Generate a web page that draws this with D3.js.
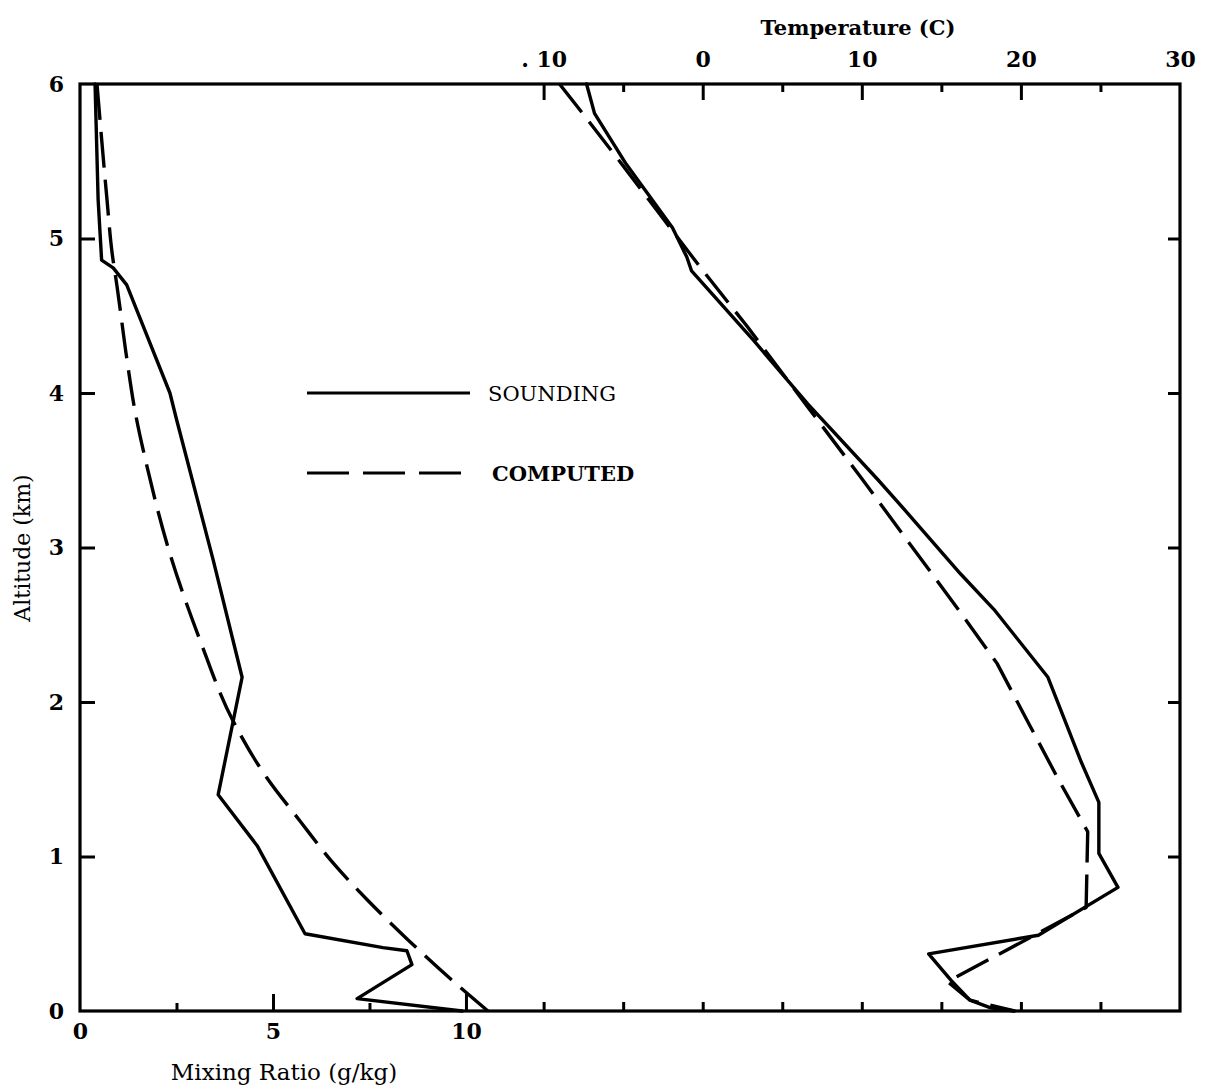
<!DOCTYPE html>
<html>
<head>
<meta charset="utf-8">
<script src="https://cdn.jsdelivr.net/npm/d3@7"></script>
<style>
  html, body { margin: 0; padding: 0; background: #fff; }
  svg { display: block; }
  text { font-family: "DejaVu Serif", "Liberation Serif", serif; fill: #000; }
</style>
</head>
<body>
<svg id="chart" width="1209" height="1091"></svg>
<script>
// ---------------- DATA ----------------
const altitudeTicks = [0, 1, 2, 3, 4, 5, 6];
const mixLabelTicks = [0, 5, 10];
const mixMinorTicks = [2.5, 7.5];
const mixMajorTicks = [5, 10];
const tempLabelValues = [-10, 0, 10, 20, 30];
const tempLabelTexts = [". 10", "0", "10", "20", "30"];
const tempMinorTicks = [-5, 5, 15, 25];
const tempBottomTicks = [-10, -5, 0, 5, 10, 15, 20, 25];

// Mixing ratio (g/kg) - sounding
const mixSoundAlt = [6, 5.25, 4.86, 4.81, 4.70, 4.0, 3.83, 2.92, 2.16, 1.40, 1.07, 0.50, 0.41, 0.39, 0.30, 0.08, 0];
const mixSoundVal = [0.39, 0.47, 0.56, 0.86, 1.21, 2.33, 2.5, 3.45, 4.2, 3.58, 4.59, 5.83, 7.85, 8.47, 8.6, 7.18, 9.9];
// Mixing ratio (g/kg) - computed
const mixCompAlt = [6, 5.25, 4.91, 4.69, 4.21, 3.89, 3.52, 2.96, 2.40, 1.88, 1.51, 1.23, 0.96, 0.72, 0.46, 0.21, 0];
const mixCompVal = [0.44, 0.70, 0.83, 0.96, 1.22, 1.42, 1.74, 2.33, 3.11, 3.96, 4.84, 5.70, 6.55, 7.44, 8.50, 9.59, 10.57];
// Temperature (C) - sounding
const tempSoundAlt = [6, 5.81, 5.48, 5.07, 4.88, 4.79, 4.34, 3.93, 3.44, 3.22, 2.83, 2.60, 2.16, 1.61, 1.35, 1.02, 0.80, 0.49, 0.37, 0.20, 0.07, 0.02, 0];
const tempSoundVal = [-7.3, -6.8, -4.8, -1.9, -1.0, -0.7, 3.2, 6.6, 11.0, 12.9, 16.2, 18.3, 21.7, 23.8, 24.9, 24.9, 26.1, 21.1, 14.2, 15.6, 16.8, 18.1, 19.6];
// Temperature (C) - computed
const tempCompAlt = [6, 5.79, 5.47, 4.82, 4.43, 3.91, 3.46, 3.04, 2.58, 2.25, 1.84, 1.51, 1.16, 0.67, 0.19, 0.07, 0];
const tempCompVal = [-9.0, -7.4, -5.0, -0.2, 2.8, 6.6, 9.9, 12.9, 16.2, 18.5, 20.6, 22.3, 24.2, 24.1, 15.4, 16.8, 19.6];

const legendItems = ["SOUNDING", "COMPUTED"];

// ---------------- LAYOUT ----------------
const plot = { left: 80, right: 1180, top: 84, bottom: 1011 };
const svg = d3.select("#chart");

const y = d3.scaleLinear().domain([0, 6]).range([plot.bottom, plot.top]);
const xMix = d3.scaleLinear().domain([0, 28.5]).range([plot.left, plot.right]);
const xTemp = d3.scaleLinear().domain([-39.14, 30]).range([plot.left, plot.right]);

const zip = (alt, val) => alt.map((a, i) => ({ alt: a, v: val[i] }));

// ---------------- AXES ----------------
function styleAxis(g, fontSize, weight) {
  g.select(".domain").remove();
  g.selectAll(".tick line").attr("stroke", "#000").attr("stroke-width", 3);
  g.selectAll(".tick text")
    .attr("font-family", "DejaVu Serif, serif")
    .attr("font-size", fontSize)
    .attr("font-weight", weight)
    .attr("fill", "#000");
}

// left altitude axis (ticks inward)
svg.append("g")
  .attr("transform", `translate(${plot.left},0)`)
  .call(d3.axisLeft(y).tickValues(altitudeTicks).tickSize(-15).tickPadding(16).tickFormat(d3.format("d")))
  .call(g => styleAxis(g, 22, "bold"))
  .call(g => g.selectAll(".tick").filter(d => d === 0 || d === 6).select("line").remove());

// right altitude ticks (inward)
svg.append("g")
  .attr("transform", `translate(${plot.right},0)`)
  .call(d3.axisRight(y).tickValues(altitudeTicks.filter(d => d > 0 && d < 6)).tickSize(-12).tickFormat(""))
  .call(g => styleAxis(g, 22, "bold"));

// top temperature axis: labelled major ticks
svg.append("g")
  .attr("transform", `translate(0,${plot.top})`)
  .call(d3.axisTop(xTemp).tickValues(tempLabelValues).tickSize(-16).tickPadding(17)
    .tickFormat((d, i) => tempLabelTexts[i]))
  .call(g => styleAxis(g, 22, "bold"))
  .call(g => g.selectAll(".tick").filter(d => d === 30).select("line").remove());

// top minor ticks
svg.append("g")
  .attr("transform", `translate(0,${plot.top})`)
  .call(d3.axisTop(xTemp).tickValues(tempMinorTicks).tickSize(-8).tickFormat(""))
  .call(g => styleAxis(g, 22, "bold"));

// bottom mixing-ratio labels and major ticks
svg.append("g")
  .attr("transform", `translate(0,${plot.bottom})`)
  .call(d3.axisBottom(xMix).tickValues(mixLabelTicks).tickSize(0).tickPadding(12).tickFormat(d3.format("d")))
  .call(g => styleAxis(g, 22, "bold"));

svg.append("g")
  .attr("transform", `translate(0,${plot.bottom})`)
  .call(d3.axisBottom(xMix).tickValues(mixMajorTicks).tickSize(-17).tickFormat(""))
  .call(g => styleAxis(g, 22, "bold"));

svg.append("g")
  .attr("transform", `translate(0,${plot.bottom})`)
  .call(d3.axisBottom(xMix).tickValues(mixMinorTicks).tickSize(-8).tickFormat(""))
  .call(g => styleAxis(g, 22, "bold"));

// bottom temperature ticks
svg.append("g")
  .attr("transform", `translate(0,${plot.bottom})`)
  .call(d3.axisBottom(xTemp).tickValues(tempBottomTicks).tickSize(-9).tickFormat(""))
  .call(g => styleAxis(g, 22, "bold"));

// frame
svg.append("rect")
  .attr("x", plot.left).attr("y", plot.top)
  .attr("width", plot.right - plot.left).attr("height", plot.bottom - plot.top)
  .attr("fill", "none").attr("stroke", "#000").attr("stroke-width", 3.2);

// ---------------- CURVES ----------------
const lineMix = d3.line().x(d => xMix(d.v)).y(d => y(d.alt));
const lineMixSmooth = d3.line().x(d => xMix(d.v)).y(d => y(d.alt)).curve(d3.curveMonotoneY);
const lineTemp = d3.line().x(d => xTemp(d.v)).y(d => y(d.alt));

const curveG = svg.append("g").attr("fill", "none").attr("stroke", "#000")
  .attr("stroke-width", 3.4).attr("stroke-linejoin", "round").attr("stroke-linecap", "round");

curveG.append("path").attr("d", lineMix(zip(mixSoundAlt, mixSoundVal)));
curveG.append("path").attr("d", lineMixSmooth(zip(mixCompAlt, mixCompVal)))
  .attr("stroke-dasharray", "36,12").attr("stroke-linecap", "butt");
curveG.append("path").attr("d", lineTemp(zip(tempSoundAlt, tempSoundVal)));
curveG.append("path").attr("d", lineTemp(zip(tempCompAlt, tempCompVal)))
  .attr("stroke-dasharray", "36,12").attr("stroke-linecap", "butt");

// ---------------- LEGEND ----------------
const legend = svg.append("g");
const legY = [393, 473];
legendItems.forEach((name, i) => {
  legend.append("line")
    .attr("x1", 307).attr("x2", i === 0 ? 470 : 462)
    .attr("y1", legY[i]).attr("y2", legY[i])
    .attr("stroke", "#000").attr("stroke-width", 3.2)
    .attr("stroke-dasharray", i === 0 ? null : "42,14");
  legend.append("text")
    .attr("x", i === 0 ? 488 : 492).attr("y", legY[i])
    .attr("dy", "0.36em")
    .attr("font-size", 21)
    .attr("font-weight", i === 0 ? "normal" : "bold")
    .text(name);
});

// ---------------- AXIS TITLES ----------------
svg.append("text")
  .attr("x", 858).attr("y", 27).attr("dy", "0.36em")
  .attr("text-anchor", "middle").attr("font-size", 21).attr("font-weight", "bold")
  .text("Temperature (C)");

svg.append("text")
  .attr("transform", "translate(22,548) rotate(-90)")
  .attr("dy", "0.36em")
  .attr("text-anchor", "middle").attr("font-size", 22)
  .text("Altitude (km)");

svg.append("text")
  .attr("x", 284).attr("y", 1072).attr("dy", "0.36em")
  .attr("text-anchor", "middle").attr("font-size", 23)
  .text("Mixing Ratio (g/kg)");
</script>
</body>
</html>
